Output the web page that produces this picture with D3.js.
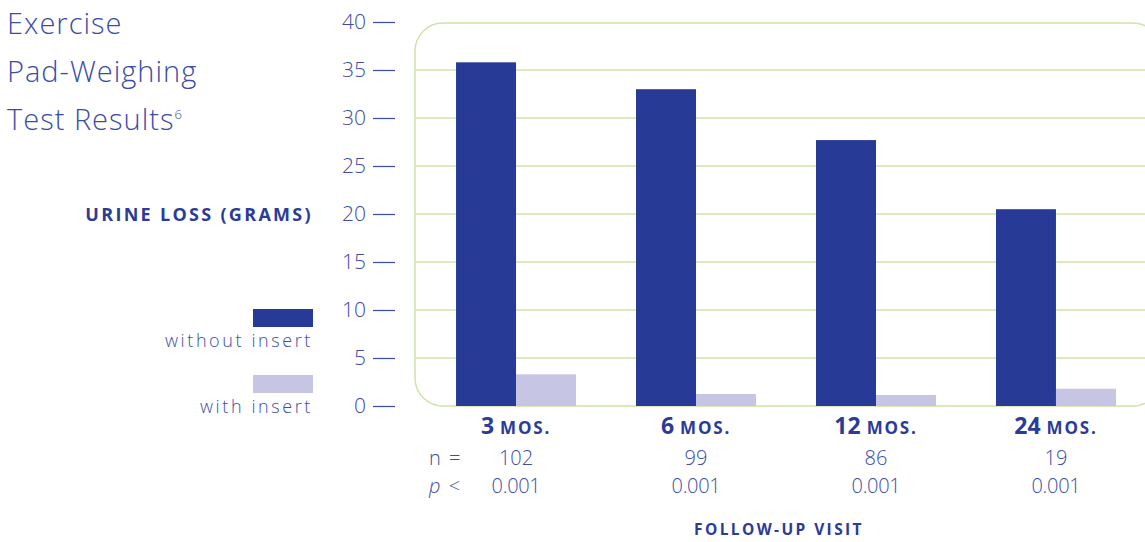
<!DOCTYPE html>
<html>
<head>
<meta charset="utf-8">
<script src="https://cdn.jsdelivr.net/npm/d3@7"></script>
<style>
  html, body { margin: 0; padding: 0; background: #fff; }
  svg { display: block; font-family: "Open Sans", "Lato", sans-serif; }
</style>
</head>
<body>
<svg id="chart" width="1145" height="542"></svg>
<script>
// Follow-up visits and the pad-weighing results (grams of urine loss)
const visits = ["3", "6", "12", "24"];
const withoutInsert = [35.8, 33.0, 27.7, 20.5];
const withInsert = [3.3, 1.25, 1.15, 1.8];
const sampleSizes = ["102", "99", "86", "19"];
const pValues = ["0.001", "0.001", "0.001", "0.001"];
const yTicks = [0, 5, 10, 15, 20, 25, 30, 35, 40];
const seriesNames = ["without insert", "with insert"];

const darkBlue = "#263a96";
const lightLav = "#c6c6e4";
const textBlue = "#3b4ca6";
const boldBlue = "#2b3b98";
const gridGreen = "#cfe4a8";

const svg = d3.select("#chart");

const y = d3.scaleLinear().domain([0, 40]).range([406, 22]);
const x = d3.scaleBand().domain(visits).range([415, 1157])
  .paddingInner(1 / 3).paddingOuter(0.228);
const xs = d3.scaleBand().domain(seriesNames).range([0, x.bandwidth()]);

// Title
const title = svg.append("text").attr("fill", textBlue)
  .attr("font-size", 29).attr("font-weight", 300).attr("letter-spacing", 1);
title.append("tspan").attr("x", 7).attr("y", 34).text("Exercise");
title.append("tspan").attr("x", 7).attr("y", 82).text("Pad-Weighing");
title.append("tspan").attr("x", 7).attr("y", 130).text("Test Results");
title.append("tspan").attr("dy", -11).attr("font-size", 13).text("6");

// Y axis title
svg.append("text").attr("x", 313).attr("y", 221).attr("text-anchor", "end")
  .attr("fill", boldBlue).attr("font-weight", 700).attr("font-size", 18)
  .attr("letter-spacing", 2.3)
  .text("URINE LOSS (GRAMS)");

// Legend
const colors = [darkBlue, lightLav];
const legend = svg.append("g");
seriesNames.forEach((name, i) => {
  const top = 309 + i * 66;
  legend.append("rect").attr("x", 253).attr("y", top).attr("width", 60).attr("height", 18)
    .attr("fill", colors[i]);
  legend.append("text").attr("x", 313).attr("y", top + 38).attr("text-anchor", "end")
    .attr("fill", textBlue).attr("font-size", 18).attr("font-weight", 300)
    .attr("letter-spacing", 2.6).text(name);
});

// Panel with rounded corners and grid
svg.append("g").selectAll("line").data(yTicks.filter(d => d > 0 && d < 40)).join("line")
  .attr("x1", 415).attr("x2", 1161)
  .attr("y1", d => y(d)).attr("y2", d => y(d))
  .attr("stroke", gridGreen).attr("stroke-width", 1.5);
svg.append("rect").attr("x", 415).attr("y", y(40) + 1).attr("width", 746)
  .attr("height", y(0) - y(40) - 1).attr("rx", 28).attr("ry", 28)
  .attr("fill", "none").attr("stroke", gridGreen).attr("stroke-width", 1.5);

// Y axis with dash-like ticks
const yAxis = d3.axisLeft(y).tickValues(yTicks).tickSize(22).tickPadding(7);
const ag = svg.append("g").attr("transform", "translate(395,0)").call(yAxis);
ag.select(".domain").remove();
ag.selectAll(".tick line").attr("stroke", textBlue).attr("stroke-width", 1.2);
ag.selectAll(".tick text").attr("fill", textBlue).attr("font-size", 21)
  .attr("font-weight", 300).attr("font-family", "\"Open Sans\", sans-serif");

// Bars
const groups = svg.append("g").selectAll("g").data(visits).join("g")
  .attr("transform", d => `translate(${x(d)},0)`);
groups.append("rect")
  .attr("x", xs(seriesNames[0])).attr("width", xs.bandwidth())
  .attr("y", (d, i) => y(withoutInsert[i]))
  .attr("height", (d, i) => y(0) - y(withoutInsert[i]))
  .attr("fill", darkBlue);
groups.append("rect")
  .attr("x", xs(seriesNames[1])).attr("width", xs.bandwidth())
  .attr("y", (d, i) => y(withInsert[i]))
  .attr("height", (d, i) => y(0) - y(withInsert[i]))
  .attr("fill", lightLav);

// Category labels and statistics
groups.each(function (d, i) {
  const g = d3.select(this);
  const cx = x.bandwidth() / 2;
  const lab = g.append("text").attr("x", cx).attr("y", 434).attr("text-anchor", "middle")
    .attr("fill", boldBlue).attr("font-weight", 700);
  lab.append("tspan").attr("font-size", 23).text(d + " ");
  lab.append("tspan").attr("font-size", 17).attr("letter-spacing", 1.8).text("MOS.");
  g.append("text").attr("x", cx).attr("y", 465).attr("text-anchor", "middle")
    .attr("fill", textBlue).attr("font-size", 20).attr("font-weight", 300)
    .text(sampleSizes[i]);
  g.append("text").attr("x", cx).attr("y", 493).attr("text-anchor", "middle")
    .attr("fill", textBlue).attr("font-size", 20).attr("font-weight", 300)
    .attr("letter-spacing", -0.3).text(pValues[i]);
});

svg.append("text").attr("x", 429).attr("y", 465).attr("fill", textBlue)
  .attr("font-size", 20).attr("font-weight", 300).attr("letter-spacing", 1.5).text("n =");
const pl = svg.append("text").attr("x", 429).attr("y", 493).attr("fill", textBlue)
  .attr("font-size", 20).attr("font-weight", 300).attr("letter-spacing", 1.5);
pl.append("tspan").attr("font-style", "italic").text("p");
pl.append("tspan").text(" <");

svg.append("text").attr("x", 779).attr("y", 535).attr("text-anchor", "middle")
  .attr("fill", boldBlue).attr("font-size", 15.5).attr("font-weight", 700)
  .attr("letter-spacing", 2.4)
  .text("FOLLOW-UP VISIT");
</script>
</body>
</html>
